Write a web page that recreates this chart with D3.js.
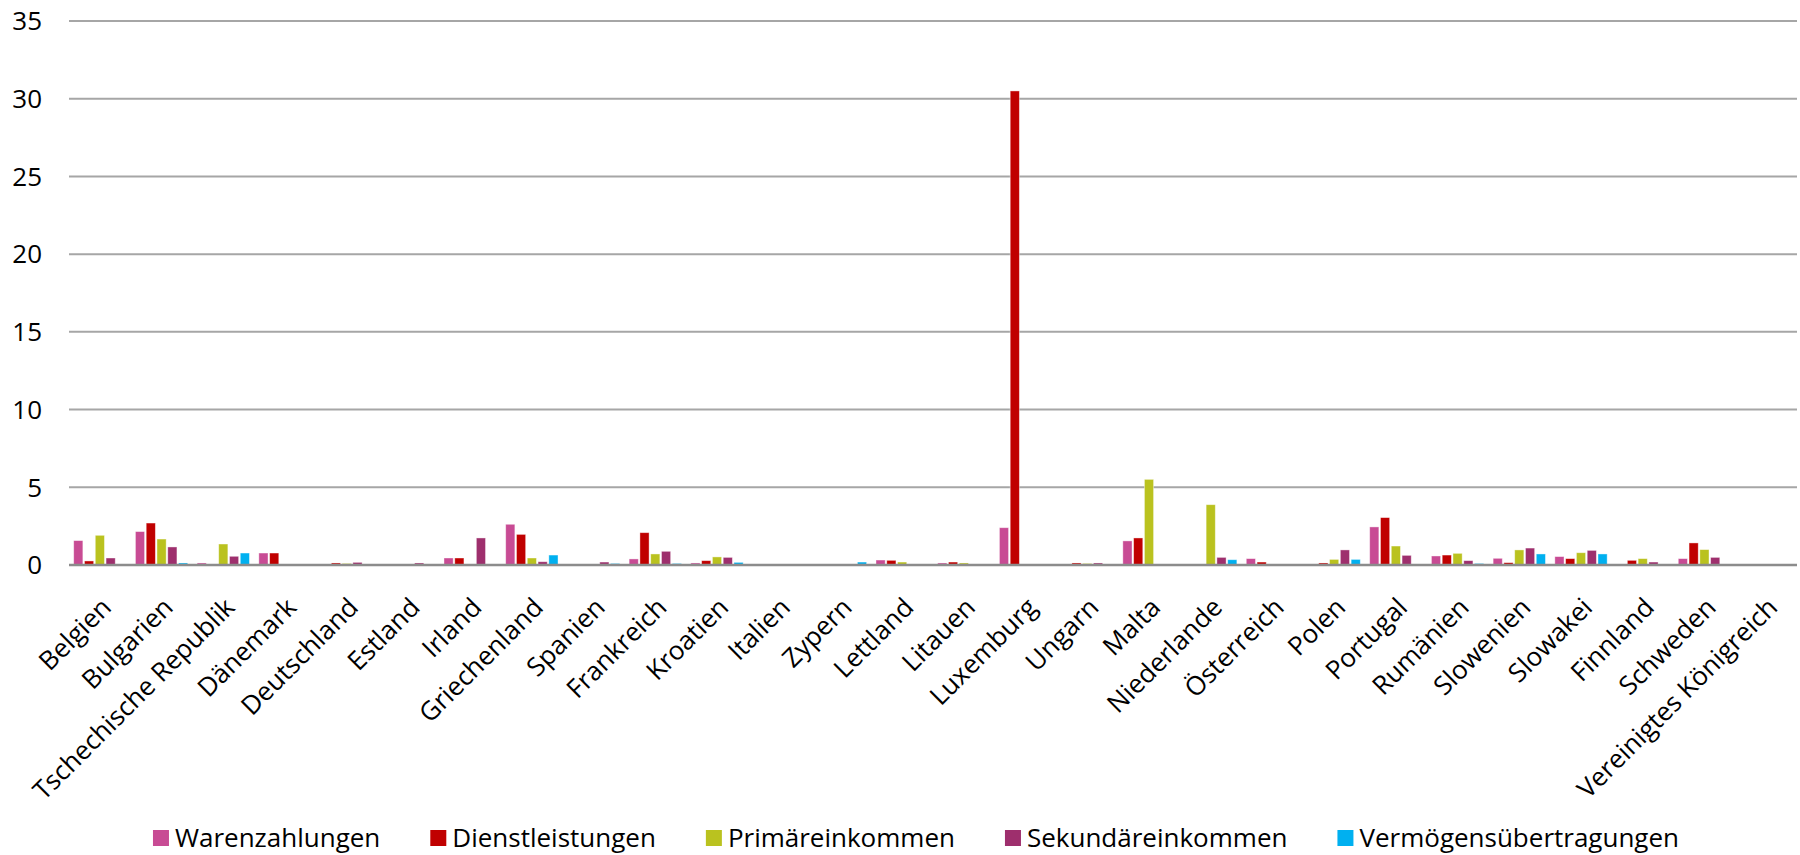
<!DOCTYPE html>
<html>
<head>
<meta charset="utf-8">
<script src="https://cdn.jsdelivr.net/npm/d3@7"></script>
<style>
  body { margin: 0; background: #fff; }
  svg text { font-family: "Open Sans", sans-serif; fill: #000; }
</style>
</head>
<body>
<div id="chart"></div>
<script>
// Länder und Reihen
const countries = ["Belgien", "Bulgarien", "Tschechische Republik", "Dänemark", "Deutschland", "Estland", "Irland",
  "Griechenland", "Spanien", "Frankreich", "Kroatien", "Italien", "Zypern", "Lettland", "Litauen", "Luxemburg",
  "Ungarn", "Malta", "Niederlande", "Österreich", "Polen", "Portugal", "Rumänien", "Slowenien", "Slowakei",
  "Finnland", "Schweden", "Vereinigtes Königreich"];

const seriesNames = ["Warenzahlungen", "Dienstleistungen", "Primäreinkommen", "Sekundäreinkommen", "Vermögensübertragungen"];
const seriesColors = ["#C84B94", "#C00000", "#BAC21F", "#9E2F6D", "#00B0F0"];

const warenzahlungen   = [1.57, 2.15, 0.13, 0.77, 0.04, 0, 0.45, 2.62, 0, 0.39, 0.13, 0, 0, 0.32, 0.13, 2.40, 0.04, 1.55, 0, 0.41, 0, 2.45, 0.58, 0.43, 0.54, 0.04, 0.41, 0];
const dienstleistungen = [0.26, 2.70, 0.06, 0.77, 0.13, 0, 0.45, 1.97, 0.03, 2.08, 0.28, 0.04, 0, 0.30, 0.19, 30.5, 0.13, 1.74, 0, 0.19, 0.13, 3.05, 0.64, 0.15, 0.41, 0.30, 1.42, 0];
const primaer          = [1.91, 1.67, 1.35, 0, 0.10, 0.05, 0, 0.45, 0.03, 0.71, 0.52, 0.03, 0.03, 0.19, 0.13, 0, 0.10, 5.51, 3.88, 0.04, 0.36, 1.22, 0.75, 0.97, 0.79, 0.41, 0.99, 0];
const sekundaer        = [0.45, 1.16, 0.56, 0.05, 0.17, 0.13, 1.74, 0.21, 0.19, 0.88, 0.49, 0, 0, 0.04, 0.04, 0, 0.13, 0, 0.49, 0.04, 0.97, 0.62, 0.28, 1.09, 0.94, 0.19, 0.49, 0];
const vermoegen        = [0.06, 0.13, 0.77, 0, 0.05, 0.05, 0, 0.64, 0.10, 0.10, 0.17, 0, 0.19, 0, 0, 0, 0.05, 0.04, 0.34, 0, 0.36, 0.04, 0.10, 0.71, 0.71, 0, 0, 0];

const yTicks = [0, 5, 10, 15, 20, 25, 30, 35];

const allSeries = [warenzahlungen, dienstleistungen, primaer, sekundaer, vermoegen];

const W = 1800, H = 855;
const margin = { top: 21, right: 3, bottom: 290, left: 69 },
  width = W - margin.left - margin.right,
  height = H - margin.top - margin.bottom;

const root = d3.select("#chart").append("svg").attr("width", W).attr("height", H);
const svg = root.append("g").attr("transform", `translate(${margin.left},${margin.top})`);

const x0 = d3.scaleBand().domain(countries).range([0, width]).paddingInner(0.1).paddingOuter(0.05);
const x1 = d3.scaleBand().domain(d3.range(seriesNames.length)).range([0, x0.bandwidth()]).padding(0.15);
const y = d3.scaleLinear().domain([0, 35]).range([height, 0]);

// Gitterlinien
svg.append("g")
  .selectAll("line")
  .data(yTicks.filter((t) => t > 0))
  .enter()
  .append("line")
  .attr("x1", 0)
  .attr("x2", width)
  .attr("y1", (d) => y(d))
  .attr("y2", (d) => y(d))
  .attr("stroke", "#A6A6A6")
  .attr("stroke-width", 2);

// y-Achse Beschriftung
svg.append("g")
  .call(d3.axisLeft(y).tickValues(yTicks).tickSize(0).tickPadding(27))
  .call((g) => g.select(".domain").remove())
  .selectAll("text")
  .style("font-size", "26px")
  .attr("dy", "0.34em");

// Balken
const groups = svg.selectAll(".country")
  .data(countries)
  .enter()
  .append("g")
  .attr("transform", (d) => `translate(${x0(d)},0)`);

groups.selectAll("rect")
  .data((c, i) => allSeries.map((s, k) => ({ k, v: s[i] })))
  .enter()
  .append("rect")
  .attr("x", (d) => x1(d.k))
  .attr("width", x1.bandwidth())
  .attr("y", (d) => y(d.v))
  .attr("height", (d) => y(0) - y(d.v))
  .attr("fill", (d) => seriesColors[d.k])
  .attr("stroke", "#fff")
  .attr("stroke-opacity", 0.5)
  .attr("stroke-width", 0.8);

// Nulllinie
svg.append("line")
  .attr("x1", 0)
  .attr("x2", width)
  .attr("y1", y(0))
  .attr("y2", y(0))
  .attr("stroke", "#8C8C8C")
  .attr("stroke-width", 2.5);

// x-Achse Beschriftung (schräg)
svg.append("g")
  .selectAll("text")
  .data(countries)
  .enter()
  .append("text")
  .attr("transform", (d) => `translate(${x0(d) + x0.bandwidth() / 2 + 13},${height + 44}) rotate(-45)`)
  .attr("text-anchor", "end")
  .style("font-size", "26px")
  .text((d) => d);

// Legende
const legend = root.append("g");
const items = legend.selectAll("g")
  .data(seriesNames)
  .enter()
  .append("g");
items.append("rect")
  .attr("width", 16)
  .attr("height", 16)
  .attr("y", 830)
  .attr("fill", (d, i) => seriesColors[i]);
items.append("text")
  .attr("x", 22)
  .attr("y", 847)
  .style("font-size", "26px")
  .text((d) => d);

const gap = 50;
let cursor = 0;
const offsets = [];
items.each(function () {
  offsets.push(cursor);
  cursor += 22 + this.querySelector("text").getComputedTextLength() + gap;
});
const total = cursor - gap;
const start = 916 - total / 2;
items.attr("transform", (d, i) => `translate(${start + offsets[i]},0)`);
</script>
</body>
</html>
